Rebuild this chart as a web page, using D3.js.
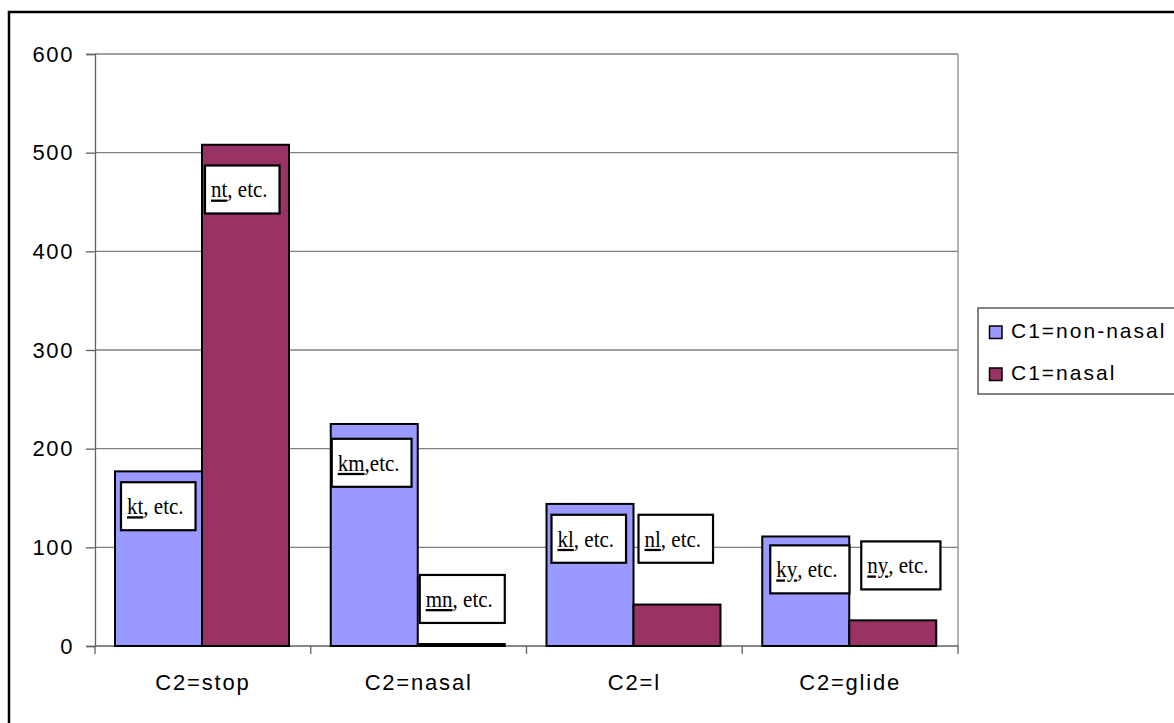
<!DOCTYPE html>
<html>
<head>
<meta charset="utf-8">
<script src="https://cdn.jsdelivr.net/npm/d3@7/dist/d3.min.js"></script>
<style>
  html, body { margin: 0; padding: 0; background: #fff; }
  svg { display: block; }
  .sans { font-family: "Liberation Sans", Arial, sans-serif; }
  .serif { font-family: "Liberation Serif", "Times New Roman", serif; }
</style>
</head>
<body>
<svg id="chart" width="1174" height="723"></svg>
<script>
// ---- data ----
const categories = ["C2=stop", "C2=nasal", "C2=l", "C2=glide"];
const seriesNames = ["C1=non-nasal", "C1=nasal"];
const nonNasal = [177, 225, 144, 111];
const nasal = [508, 2, 42, 26];
const yTicks = [0, 100, 200, 300, 400, 500, 600];
const seriesColors = ["#9999FF", "#993366"];
// annotation labels
const annoCategory = [0, 0, 1, 1, 2, 2, 3, 3];
const annoSeries   = [0, 1, 0, 1, 0, 1, 0, 1];
const annoUnder    = ["kt", "nt", "km", "mn", "kl", "nl", "ky", "ny"];
const annoRest     = [", etc.", ", etc.", ",etc.", ", etc.", ", etc.", ", etc.", ", etc.", ", etc."];
const annoTopValue = [166, 487, 210, 72, 133, 133, 102, 106];
const annoDx       = [6, 3, 1, 2, 5, 5, 8, 12];

const values = [nonNasal, nasal];

const svg = d3.select("#chart");

// outer frame
svg.append("rect").attr("x", 9).attr("y", 12).attr("width", 1200).attr("height", 740)
  .attr("fill", "none").attr("stroke", "#000").attr("stroke-width", 2.5);

const plotL = 95, plotR = 958, plotT = 54, plotB = 646;

const x = d3.scaleBand().domain(categories).range([plotL, plotR]).padding(0);
const xs = d3.scaleBand().domain(seriesNames).range([20, 194]).padding(0);
const y = d3.scaleLinear().domain([0, 600]).range([plotB, plotT]);

// gridlines
svg.append("g").selectAll("line").data(yTicks.filter(d => d > 0)).join("line")
  .attr("x1", plotL).attr("x2", plotR)
  .attr("y1", d => y(d)).attr("y2", d => y(d))
  .attr("stroke", "#808080").attr("stroke-width", 1.3);

// plot area right border
svg.append("line").attr("x1", plotR).attr("x2", plotR).attr("y1", plotT).attr("y2", plotB)
  .attr("stroke", "#9a9a9a").attr("stroke-width", 1.5);

// y axis
const yAxis = d3.axisLeft(y).tickValues(yTicks).tickSize(9).tickPadding(12);
const gy = svg.append("g").attr("transform", `translate(${plotL},0)`).call(yAxis);
gy.select(".domain").attr("stroke", "#606060").attr("stroke-width", 1.3);
gy.selectAll(".tick line").attr("stroke", "#606060").attr("stroke-width", 1.3);
gy.selectAll(".tick text").attr("class", "sans").attr("font-size", 22)
  .attr("letter-spacing", 1.6).attr("fill", "#000");

// x axis
const xAxis = d3.axisBottom(x).tickSize(0).tickPadding(28);
const gx = svg.append("g").attr("transform", `translate(0,${plotB})`).call(xAxis);
gx.select(".domain").remove();
gx.append("line").attr("x1", plotL).attr("x2", plotR).attr("y1", 0).attr("y2", 0)
  .attr("stroke", "#606060").attr("stroke-width", 1.3);
gx.selectAll(".tick text").attr("class", "sans").attr("font-size", 22)
  .attr("letter-spacing", 1.8).attr("fill", "#000");
// category boundary ticks
const bounds = categories.map(c => x(c)).concat([plotR]);
gx.selectAll(".btick").data(bounds).join("line").attr("class", "btick")
  .attr("x1", d => d).attr("x2", d => d).attr("y1", 0).attr("y2", 8)
  .attr("stroke", "#606060").attr("stroke-width", 1.3);

// bars
const rows = [];
categories.forEach((c, i) => seriesNames.forEach((s, j) => rows.push({c, s, j, v: values[j][i]})));
svg.append("g").selectAll("rect").data(rows).join("rect")
  .attr("x", d => x(d.c) + xs(d.s))
  .attr("width", xs.bandwidth())
  .attr("y", d => y(d.v))
  .attr("height", d => y(0) - y(d.v))
  .attr("fill", d => seriesColors[d.j])
  .attr("stroke", "#000").attr("stroke-width", 2);

// annotations
const annos = annoUnder.map((u, k) => ({
  c: categories[annoCategory[k]], s: seriesNames[annoSeries[k]],
  u, r: annoRest[k], top: annoTopValue[k], dx: annoDx[k]
}));
const ag = svg.append("g");
annos.forEach(a => {
  const bx = x(a.c) + xs(a.s) + a.dx;
  const by = y(a.top);
  const g = ag.append("g");
  const rect = g.append("rect").attr("x", bx).attr("y", by).attr("height", 48)
    .attr("fill", "#fff").attr("stroke", "#000").attr("stroke-width", 2.2);
  const t = g.append("text").attr("class", "serif").attr("font-size", 21)
    .attr("transform", `translate(${bx + 6},${by + 32}) scale(1,1.08)`).attr("fill", "#000");
  t.append("tspan").attr("text-decoration", "underline").text(a.u);
  t.append("tspan").text(a.r);
  const w = t.node().getComputedTextLength();
  rect.attr("width", w + 18);
});

// legend
const lg = svg.append("g");
lg.append("rect").attr("x", 978).attr("y", 308).attr("width", 210).attr("height", 86)
  .attr("fill", "#fff").attr("stroke", "#404040").attr("stroke-width", 1.3);
seriesNames.forEach((s, i) => {
  const yy = 326 + i * 42;
  lg.append("rect").attr("x", 989.5).attr("y", yy).attr("width", 12.5).attr("height", 12.5)
    .attr("fill", seriesColors[i]).attr("stroke", "#000").attr("stroke-width", 1.5);
  lg.append("text").attr("class", "sans").attr("x", 1011).attr("y", yy + 12)
    .attr("font-size", 21).attr("letter-spacing", 2).attr("fill", "#000").text(s);
});
</script>
</body>
</html>
